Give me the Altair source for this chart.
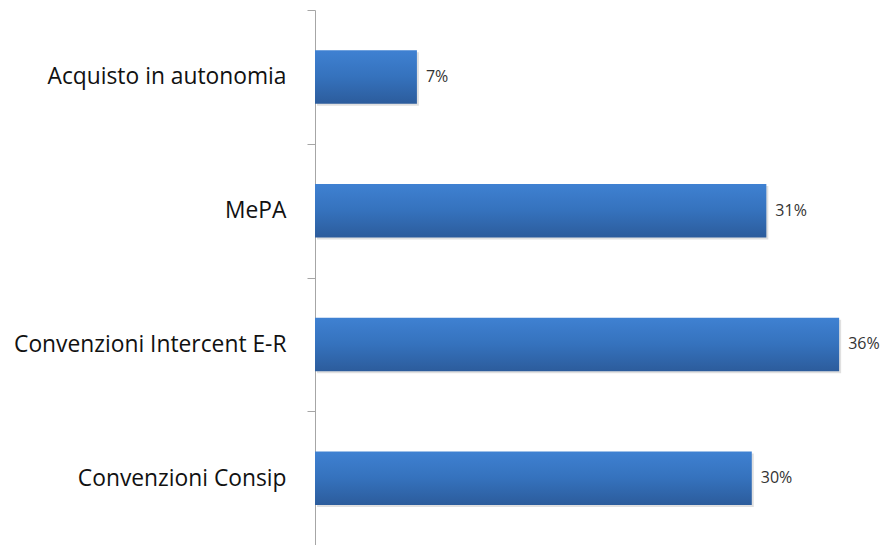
import altair as alt
import pandas as pd

categories = ["Acquisto in autonomia", "MePA", "Convenzioni Intercent E-R", "Convenzioni Consip"]
values = [7, 31, 36, 30]
labels = ["7%", "31%", "36%", "30%"]

df = pd.DataFrame({"cat": categories, "val": values, "lab": labels})

y = alt.Y("cat:N", sort=categories, title=None,
          scale=alt.Scale(paddingInner=0, paddingOuter=0),
          axis=alt.Axis(tickBand="extent", domainColor="#a6a6a6", tickColor="#a6a6a6",
                        tickSize=8, labelPadding=21, labelFontSize=22.8,
                        labelFont="Open Sans", labelColor="#111111", labelLimit=400))
x = alt.X("val:Q", scale=alt.Scale(domain=[0, 38.6]), axis=None)

grad = alt.Gradient(gradient="linear", x1=0, y1=0, x2=0, y2=1,
                    stops=[alt.GradientStop(color="#3F81D2", offset=0),
                           alt.GradientStop(color="#3572BD", offset=0.5),
                           alt.GradientStop(color="#2C5C9C", offset=1)])

shadow = alt.Chart(df).mark_bar(height={"band": 0.4}, color="#000000", opacity=0.12,
                                xOffset=2, yOffset=2).encode(x=x, y=y)
bars = alt.Chart(df).mark_bar(height={"band": 0.4}, color=grad).encode(x=x, y=y)
text = alt.Chart(df).mark_text(align="left", dx=9, fontSize=16, font="Open Sans",
                               color="#333333").encode(x=x, y=y, text="lab:N")

chart = alt.layer(shadow, bars, text).properties(
    width=562, height=535,
    autosize=alt.AutoSizeParams(type="none"),
    padding={"left": 307, "top": 2, "right": 4, "bottom": 0},
).configure_view(stroke=None)

chart.save("out.html", embed_options={"renderer": "svg", "actions": False})
